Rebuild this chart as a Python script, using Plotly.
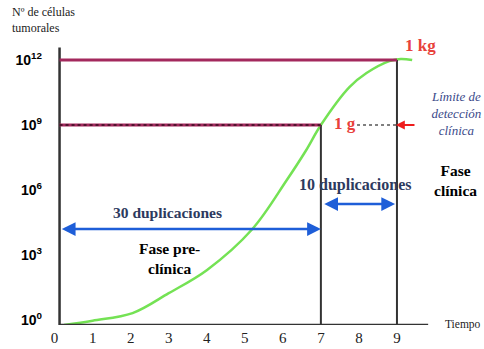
import plotly.graph_objects as go

# ---- data ----
time_vals = [0.25, 1.0, 2.05, 3.0, 4.0, 5.2, 6.1, 6.6, 7.0, 7.75, 8.2, 8.8, 9.1, 9.4]
log_cells = [-0.23, -0.03, 0.32, 1.24, 2.3, 4.2, 6.45, 7.8, 9.0, 10.75, 11.4, 11.95, 12.05, 12.0]
x_ticks = list(range(0, 10))
y_ticks = [0, 3, 6, 9, 12]
y_tick_text = ["10<sup>0</sup>", "10<sup>3</sup>", "10<sup>6</sup>", "10<sup>9</sup>", "10<sup>12</sup>"]
detection_time = 7
clinical_time = 9
detection_log = 9
lethal_log = 12

X0 = 0.13      # y-axis line position
YB = -0.23     # x-axis line position
SERIF = "Liberation Serif"
MAROON = "#a3295d"
BLUE = "#1e5ed8"
DARK = "#2d3a5e"

ML, MR, MT, MB = 47, 49, 33.6, 24
W, H = 484, 349
PW, PH = W - ML - MR, H - MT - MB

def paper(xp, yp):
    return (xp - ML) / PW, 1 - (yp - MT) / PH

fig = go.Figure()
fig.add_trace(go.Scatter(x=time_vals, y=log_cells, mode="lines",
                         line=dict(color="#74e254", width=2.5, shape="spline"),
                         hoverinfo="skip", showlegend=False))

shapes = [
    dict(type="line", x0=X0, x1=X0, y0=YB, y1=12.58, line=dict(color="#333", width=2.5)),
    dict(type="line", x0=X0, x1=9.82, y0=YB, y1=YB, line=dict(color="#333", width=2.5)),
    dict(type="line", x0=detection_time, x1=detection_time, y0=YB, y1=detection_log, line=dict(color="#333", width=2)),
    dict(type="line", x0=clinical_time, x1=clinical_time, y0=YB, y1=lethal_log, line=dict(color="#333", width=2)),
    dict(type="line", x0=X0, x1=clinical_time, y0=lethal_log, y1=lethal_log, line=dict(color=MAROON, width=3)),
    dict(type="line", x0=X0, x1=detection_time, y0=detection_log, y1=detection_log, line=dict(color=MAROON, width=3)),
    dict(type="line", x0=X0, x1=detection_time, y0=detection_log, y1=detection_log, line=dict(color="black", width=1, dash="3px,3px")),
    dict(type="line", x0=7.95, x1=clinical_time, y0=detection_log, y1=detection_log, line=dict(color="black", width=1.2, dash="3px,3px")),
]

ann = []
for (xa, xb, yv) in [(0.15, detection_time, 4.2), (detection_time + 0.05, clinical_time - 0.05, 5.35)]:
    ann.append(dict(x=xb, y=yv, ax=xa, ay=yv, xref="x", yref="y", axref="x", ayref="y",
                    showarrow=True, arrowhead=2, arrowside="end+start", arrowsize=1.1,
                    arrowwidth=2.5, arrowcolor=BLUE, text=""))
ann.append(dict(x=8.97, y=detection_log, ax=9.5, ay=detection_log, xref="x", yref="y", axref="x", ayref="y",
                showarrow=True, arrowhead=2, arrowsize=1, arrowwidth=1.8, arrowcolor="#ee1c1c", text=""))

def fmt(t, bold, italic):
    s = t
    if italic:
        s = "<i>" + s.replace("<br>", "</i><br><i>") + "</i>"
    if bold:
        s = "<b>" + s.replace("<br>", "</b><br><b>") + "</b>"
    return s

def txt(t, x, y, size, color="black", bold=True, italic=False):
    return dict(text=fmt(t, bold, italic), x=x, y=y, xref="x", yref="y", showarrow=False,
                xanchor="center", yanchor="middle", font=dict(family=SERIF, size=size, color=color))

def ptxt(t, xp, yp, size, color="black", bold=True, italic=False, xanchor="center", yanchor="middle", align="center"):
    px, py = paper(xp, yp)
    return dict(text=fmt(t, bold, italic), x=px, y=py, xref="paper", yref="paper", showarrow=False,
                xanchor=xanchor, yanchor=yanchor, align=align, font=dict(family=SERIF, size=size, color=color))

ann += [
    txt("30 duplicaciones", 2.97, 4.98, 15.5, DARK),
    txt("Fase pre-<br>clínica", 3.03, 2.86, 15.5, "black"),
    txt("10 duplicaciones", 7.89, 6.22, 16, DARK),
    txt("1 kg", 9.63, 12.67, 17, "#e8413b"),
    txt("1 g", 7.63, 9.05, 17, "#e8413b"),
    ptxt("Fase<br>clínica", 455, 180, 15.5, "black"),
    ptxt("Límite de<br>detección<br>clínica", 456, 113, 13, "#3b4a8a", bold=False, italic=True),
    ptxt("Tiempo", 443, 324, 11.5, "#222", bold=False, xanchor="left"),
    ptxt("Nº de células<br>tumorales", 10, 3, 12, "#222", bold=False, xanchor="left", yanchor="top", align="left"),
]

fig.update_layout(
    width=W, height=H,
    margin=dict(l=ML, r=MR, t=MT, b=MB, autoexpand=False),
    paper_bgcolor="white", plot_bgcolor="white",
    shapes=shapes, annotations=ann,
    xaxis=dict(range=[-0.2, 10], tickvals=x_ticks, ticktext=[str(v) for v in x_ticks],
               showgrid=False, zeroline=False, showline=False, ticks="", automargin=False,
               tickfont=dict(family=SERIF, size=15, color="#222"), ticklabelstandoff=2),
    yaxis=dict(range=[YB, 13.2], tickvals=y_ticks, ticktext=["<b>" + t + "</b>" for t in y_tick_text],
               showgrid=False, zeroline=False, showline=False, ticks="", automargin=False,
               tickfont=dict(family="Liberation Sans", size=14, color="black"), ticklabelstandoff=4),
)

fig.write_html("out.html", config={"displayModeBar": False},
               post_script="document.body.style.margin='0';document.body.style.overflow='hidden';")
